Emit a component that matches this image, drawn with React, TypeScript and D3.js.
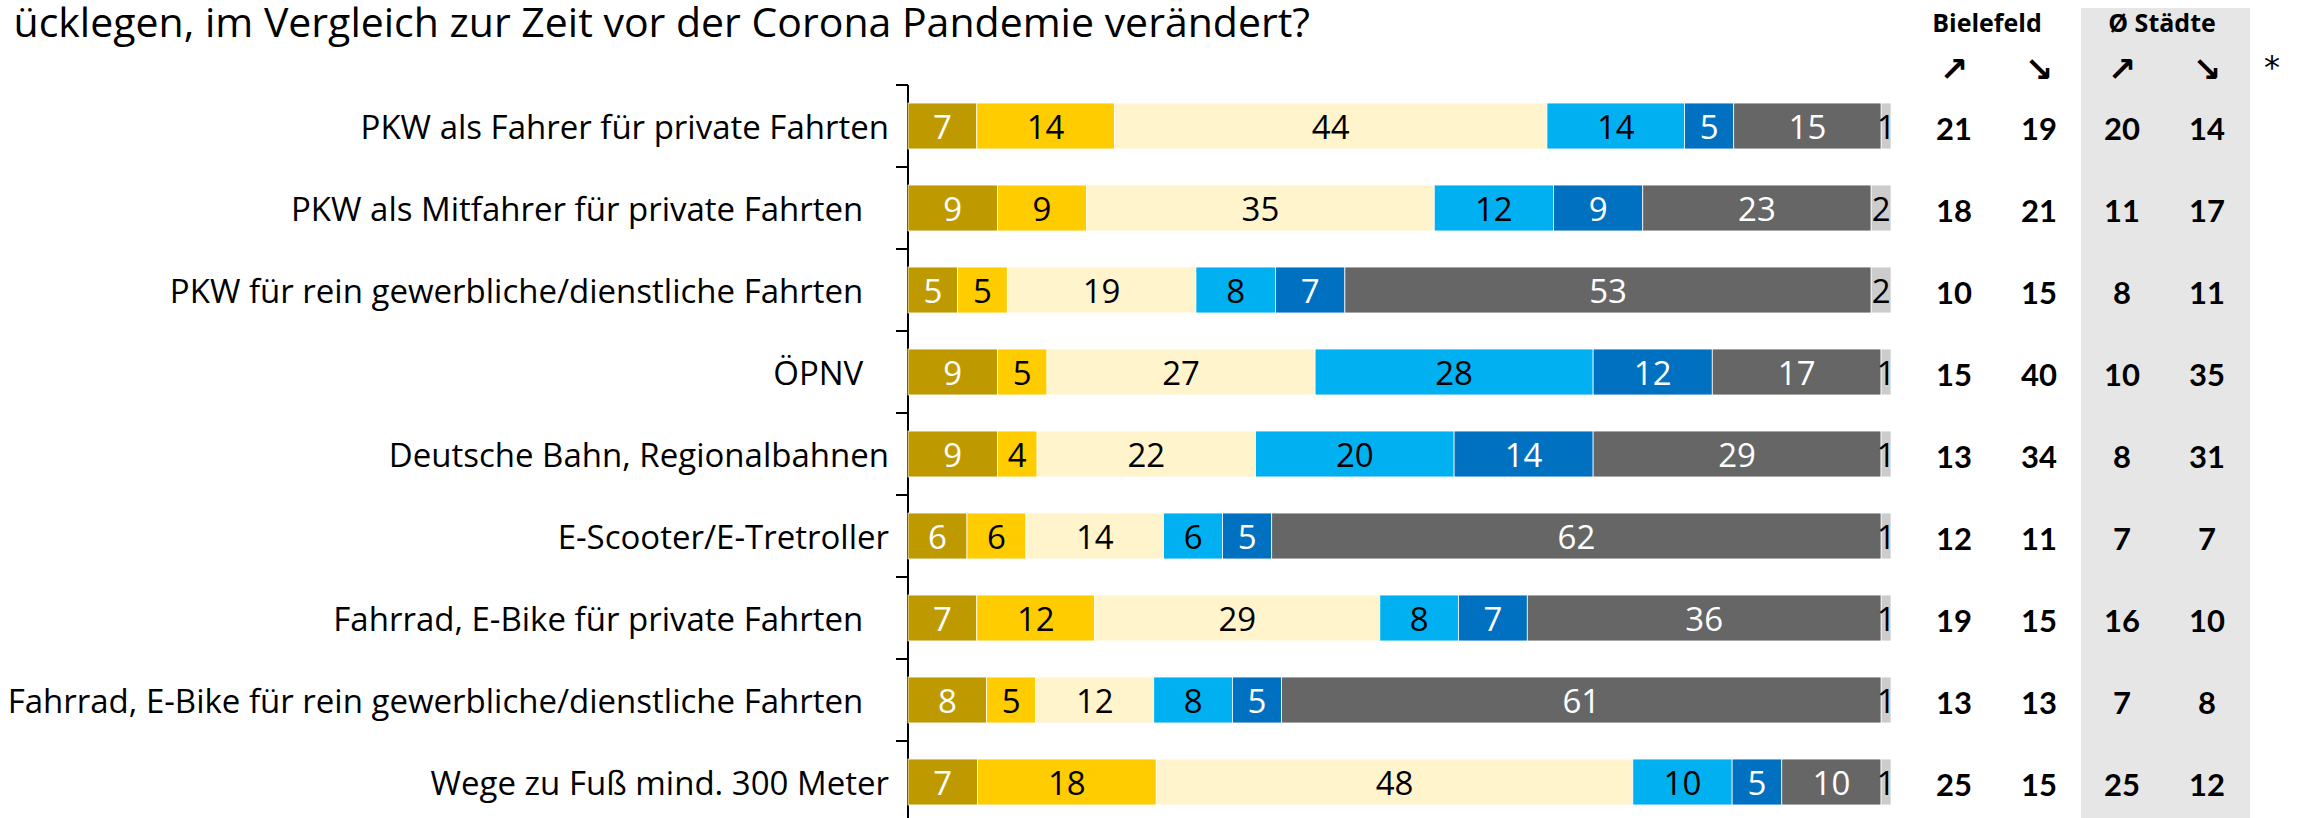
import React from "react";
import * as d3 from "d3";

// Kategorien (Zeilen), Reihenfolge von oben nach unten
const categories = [
  "PKW als Fahrer für private Fahrten",
  "PKW als Mitfahrer für private Fahrten   ",
  "PKW für rein gewerbliche/dienstliche Fahrten   ",
  "ÖPNV   ",
  "Deutsche Bahn, Regionalbahnen",
  "E-Scooter/E-Tretroller",
  "Fahrrad, E-Bike für private Fahrten   ",
  "Fahrrad, E-Bike für rein gewerbliche/dienstliche Fahrten   ",
  "Wege zu Fuß mind. 300 Meter",
];

// Segmente (links nach rechts), Werte in %
const seriesKeys = ["s1", "s2", "s3", "s4", "s5", "s6", "s7"];
const s1 = [7, 9, 5, 9, 9, 6, 7, 8, 7];
const s2 = [14, 9, 5, 5, 4, 6, 12, 5, 18];
const s3 = [44, 35, 19, 27, 22, 14, 29, 12, 48];
const s4 = [14, 12, 8, 28, 20, 6, 8, 8, 10];
const s5 = [5, 9, 7, 12, 14, 5, 7, 5, 5];
const s6 = [15, 23, 53, 17, 29, 62, 36, 61, 10];
const s7 = [1, 2, 2, 1, 1, 1, 1, 1, 1];
const seriesValues = [s1, s2, s3, s4, s5, s6, s7];

const segColors = ["#BF9900", "#FFCC00", "#FFF4CC", "#00B0F0", "#0070C0", "#666666", "#CCCCCC"];
const segText = ["#fff", "#000", "#000", "#000", "#fff", "#fff", "#000"];

// Tabelle rechts
const bielefeldUp = [21, 18, 10, 15, 13, 12, 19, 13, 25];
const bielefeldDown = [19, 21, 15, 40, 34, 11, 15, 13, 15];
const staedteUp = [20, 11, 8, 10, 8, 7, 16, 7, 25];
const staedteDown = [14, 17, 11, 35, 31, 7, 10, 8, 12];

const title = "ücklegen, im Vergleich zur Zeit vor der Corona Pandemie verändert?";

const W = 2298;
const H = 818;
const FONT = "'Open Sans', Lato, sans-serif";
const BOLD = "Lato, 'Open Sans', sans-serif";

export default function App() {
  const rows = categories.map((c, i) => {
    const r: any = { cat: c };
    seriesKeys.forEach((k, j) => (r[k] = seriesValues[j][i]));
    return r;
  });

  const stacked = d3.stack().keys(seriesKeys).offset(d3.stackOffsetExpand)(rows);

  const x = d3.scaleLinear().domain([0, 1]).range([908, 1891]);
  const y = d3
    .scaleBand()
    .domain(categories)
    .range([85, 823])
    .paddingInner(0.44)
    .paddingOuter(0.22);

  const step = y.step();
  const bw = y.bandwidth();
  const gap = (step - bw) / 2;

  const cols = [
    { x: 1954, vals: bielefeldUp },
    { x: 2039, vals: bielefeldDown },
    { x: 2122, vals: staedteUp },
    { x: 2207, vals: staedteDown },
  ];

  return (
    <svg
      width={W}
      height={H}
      style={{ position: "absolute", left: 0, top: 0, background: "#fff" }}
      fontFamily={FONT}
    >
      {/* grauer Hintergrund Ø Städte */}
      <rect x={2081} y={8} width={169} height={H - 8} fill="#E7E6E6" />

      {/* Titel (links abgeschnitten) */}
      <text x={1310} y={37} textAnchor="end" fontSize={41} fill="#000">
        {title}
      </text>

      {/* Kopf Tabelle */}
      <text x={1987} y={32} textAnchor="middle" fontSize={25} fontWeight="bold">
        Bielefeld
      </text>
      <text x={2162} y={32} textAnchor="middle" fontSize={25} fontWeight="bold">
        Ø Städte
      </text>
      {cols.map((c, i) => (
        <text
          key={i}
          x={c.x}
          y={69}
          textAnchor="middle"
          dominantBaseline="central"
          fontSize={34}
          fontWeight="bold"
          fontFamily="'DejaVu Sans', sans-serif"
        >
          {i % 2 === 0 ? "↗" : "↘"}
        </text>
      ))}
      <text
        x={2272}
        y={78}
        textAnchor="middle"
        fontSize={32}
        fontFamily="'DejaVu Sans', sans-serif"
      >
        *
      </text>

      {/* Achse */}
      <line x1={908} x2={908} y1={85} y2={H} stroke="#000" strokeWidth={2} />
      {categories.map((c) => (
        <line
          key={c}
          x1={896}
          x2={908}
          y1={(y(c) as number) - gap}
          y2={(y(c) as number) - gap}
          stroke="#000"
          strokeWidth={2}
        />
      ))}

      {/* Kategorienbeschriftung */}
      {categories.map((c) => (
        <text
          key={c}
          x={889}
          y={(y(c) as number) + bw / 2}
          textAnchor="end"
          dominantBaseline="central"
          fontSize={33}
          style={{ whiteSpace: "pre" }}
        >
          {c}
        </text>
      ))}

      {/* Balken */}
      {stacked.map((layer, j) => (
        <g key={layer.key}>
          {layer.map((d: any, i) => {
            const cat = categories[i];
            const x0 = x(d[0]);
            const x1 = x(d[1]);
            const yy = y(cat) as number;
            return (
              <g key={cat}>
                <rect
                  x={x0}
                  y={yy}
                  width={x1 - x0}
                  height={bw}
                  fill={segColors[j]}
                  stroke="#fff"
                  strokeWidth={0.75}
                />
                <text
                  x={(x0 + x1) / 2}
                  y={yy + bw / 2}
                  textAnchor="middle"
                  dominantBaseline="central"
                  fontSize={33}
                  fill={segText[j]}
                >
                  {seriesValues[j][i]}
                </text>
              </g>
            );
          })}
        </g>
      ))}

      {/* Tabelle Zahlen */}
      {cols.map((c, ci) =>
        c.vals.map((v, i) => (
          <text
            key={ci + "-" + i}
            x={c.x}
            y={(y(categories[i]) as number) + bw / 2 + 2}
            textAnchor="middle"
            dominantBaseline="central"
            fontSize={31}
            fontWeight="bold"
            fontFamily={BOLD}
          >
            {v}
          </text>
        ))
      )}
    </svg>
  );
}
